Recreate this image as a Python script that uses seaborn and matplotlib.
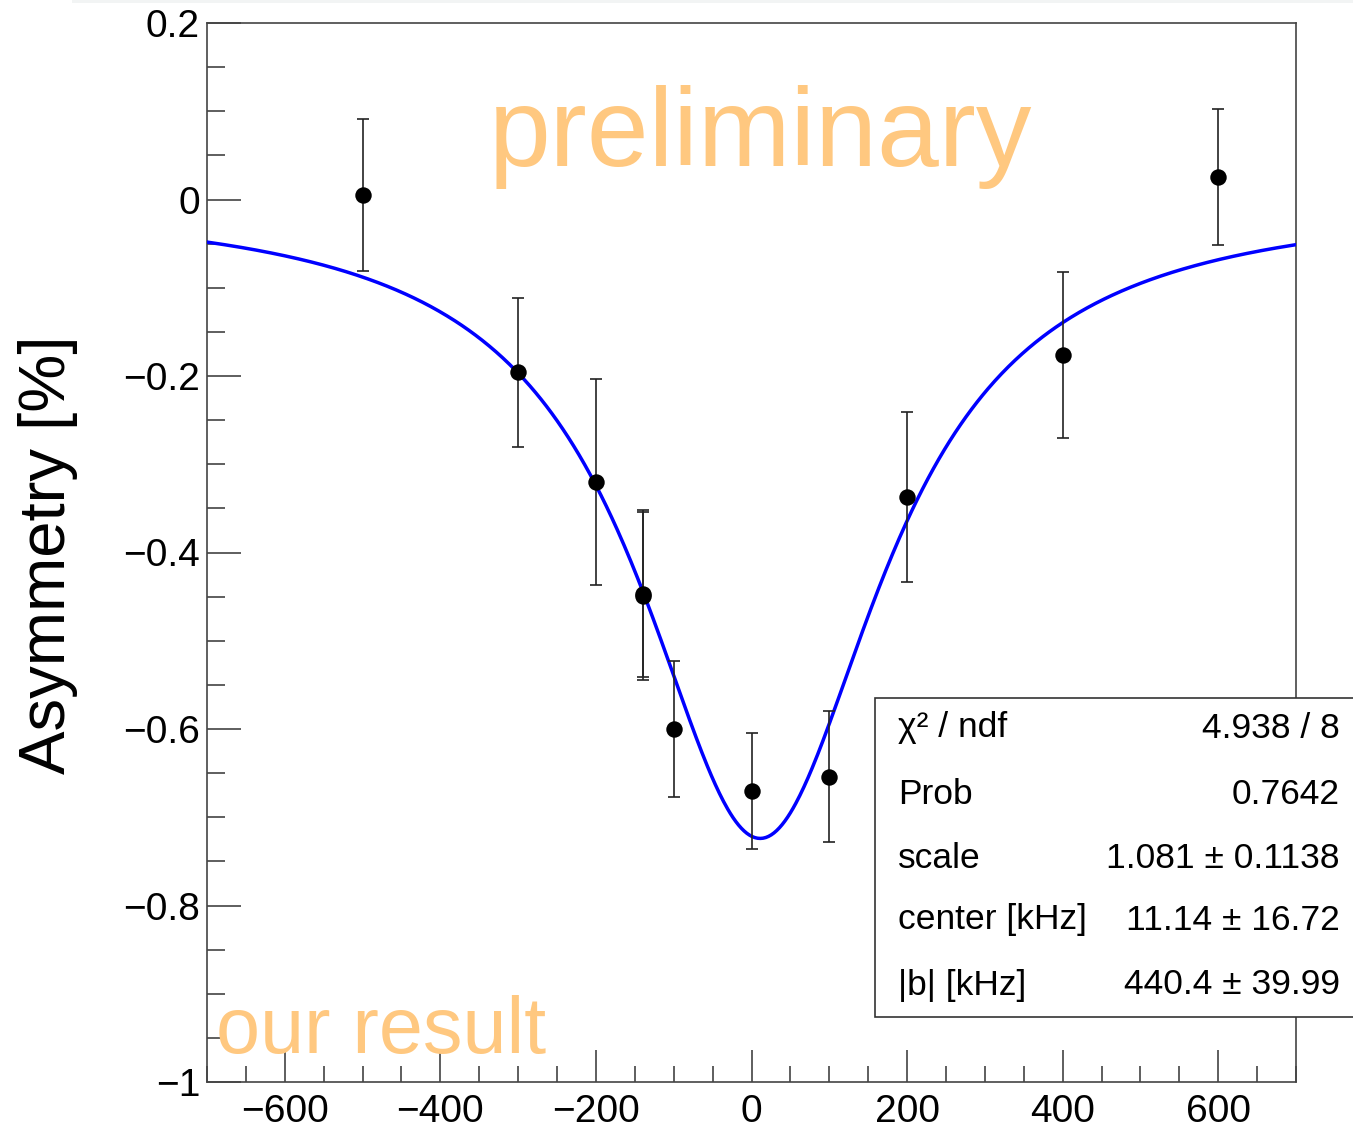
import numpy as np
import pandas as pd
import matplotlib
matplotlib.use("Agg")
import matplotlib.pyplot as plt
from matplotlib.patches import Rectangle
from matplotlib.ticker import MultipleLocator, FuncFormatter
import seaborn as sns

# ---- data ----
freq_khz = [-500, -300, -200, -140, -140, -100, 0, 100, 200, 400, 600]
asym_pct = [0.005, -0.196, -0.320, -0.4465, -0.4495, -0.600, -0.670, -0.654, -0.337, -0.176, 0.025]
asym_err = [0.086, 0.084, 0.117, 0.0945, 0.0955, 0.077, 0.066, 0.074, 0.096, 0.094, 0.077]

# fit curve (Lorentzian dip) parameters, as drawn
fit_depth = 0.724
fit_center = 11.14
fit_hwhm = 190.0

stat_labels = ["χ² / ndf", "Prob", "scale", "center [kHz]", "|b| [kHz]"]
stat_values = ["4.938 / 8", "0.7642", "1.081 ± 0.1138", "11.14 ± 16.72", "440.4 ± 39.99"]

xticks = [-600, -400, -200, 0, 200, 400, 600]
yticks = [-1.0, -0.8, -0.6, -0.4, -0.2, 0.0, 0.2]

# ---- style ----
sns.set_theme(style="white")
plt.rcParams["font.family"] = ["Liberation Sans", "DejaVu Sans"]
plt.rcParams["axes.unicode_minus"] = True
plt.rcParams["text.color"] = "black"
plt.rcParams["xtick.color"] = "black"
plt.rcParams["ytick.color"] = "black"

W, H = 1353, 1129
fig = plt.figure(figsize=(W / 100, H / 100), dpi=100)
fig.patch.set_facecolor("white")

L, R, B, T = 207, 1296, 1082, 23
ax = fig.add_axes([L / W, 1 - B / H, (R - L) / W, (B - T) / H])
ax.set_xlim(-700, 700)
ax.set_ylim(-1.0, 0.2)

axis_col = "#333333"
for s in ax.spines.values():
    s.set_color("#444444")
    s.set_linewidth(1.2)

# fit curve
xs = np.linspace(-700, 700, 800)
ys = -fit_depth / (1 + ((xs - fit_center) / fit_hwhm) ** 2)
fit_df = pd.DataFrame({"x": xs, "y": ys})
sns.lineplot(data=fit_df, x="x", y="y", ax=ax, color="#0000ff", lw=2.5, zorder=3)

# data points
df = pd.DataFrame({"x": freq_khz, "y": asym_pct, "e": asym_err})
ax.errorbar(df["x"], df["y"], yerr=df["e"], fmt="none", ecolor="#222222",
            elinewidth=1.2, capsize=4.5, capthick=1.2, zorder=4)
sns.scatterplot(data=df, x="x", y="y", ax=ax, color="black", s=140,
                edgecolor="black", linewidth=0, zorder=5)

ax.set_xlabel("")
ax.set_ylabel("")

# ticks
ax.xaxis.set_major_locator(MultipleLocator(200))
ax.xaxis.set_minor_locator(MultipleLocator(50))
ax.yaxis.set_major_locator(MultipleLocator(0.2))
ax.yaxis.set_minor_locator(MultipleLocator(0.05))
ax.set_xticks(xticks)
ax.set_yticks(yticks)

def yfmt(v, pos):
    if abs(v) < 1e-9:
        return "0"
    if abs(abs(v) - 1) < 1e-9:
        return "\u22121" if v < 0 else "1"
    s = f"{abs(v):.1f}"
    return ("\u2212" + s) if v < 0 else s

def xfmt(v, pos):
    v = int(round(v))
    return ("\u2212" + str(-v)) if v < 0 else str(v)

ax.yaxis.set_major_formatter(FuncFormatter(yfmt))
ax.xaxis.set_major_formatter(FuncFormatter(xfmt))

ax.tick_params(axis="x", which="major", direction="in", length=23, width=1.1,
               color=axis_col, labelcolor="black", labelsize=28, pad=9, top=False, bottom=True)
ax.tick_params(axis="x", which="minor", direction="in", length=11.5, width=1.1,
               color=axis_col, top=False, bottom=True)
ax.tick_params(axis="y", which="major", direction="in", length=24.5, width=1.1,
               color=axis_col, labelcolor="black", labelsize=28, pad=5, left=True, right=False)
ax.tick_params(axis="y", which="minor", direction="in", length=13, width=1.1,
               color=axis_col, left=True, right=False)

# y label
fig.text(48 / W, 1 - 555 / H, "Asymmetry [%]", rotation=90, ha="center", va="center",
         fontsize=47, color="black")

# watermark texts
orange = "#ffc880"
ax.text((489 - L) / (R - L), (B - 166) / (B - T), "preliminary", transform=ax.transAxes,
        fontsize=80, color=orange, ha="left", va="baseline", zorder=6)
ax.text((216 - L) / (R - L), (B - 1053) / (B - T), "our result", transform=ax.transAxes,
        fontsize=57, color=orange, ha="left", va="baseline", zorder=6)

# stats box
bx0, by_top, by_bot = 875, 698, 1017
box = Rectangle((bx0 / W, 1 - by_bot / H), (W + 20 - bx0) / W, (by_bot - by_top) / H,
                transform=fig.transFigure, facecolor="white", edgecolor="#333333",
                linewidth=1.2, zorder=10)
fig.add_artist(box)
row_y = [728, 795, 858, 920, 985]
for lab, val, yy in zip(stat_labels, stat_values, row_y):
    fig.text(898 / W, 1 - yy / H, lab, ha="left", va="center", fontsize=25.5,
             color="black", zorder=11)
    fig.text(1340 / W, 1 - yy / H, val, ha="right", va="center", fontsize=25.5,
             color="black", zorder=11)

# faint top strip from the screenshot
fig.add_artist(Rectangle((72 / W, 1 - 3 / H), 1, 3 / H, transform=fig.transFigure,
                         facecolor="#f2f4f4", edgecolor="none", zorder=0))

fig.savefig("out.png", dpi=100, facecolor="white")
